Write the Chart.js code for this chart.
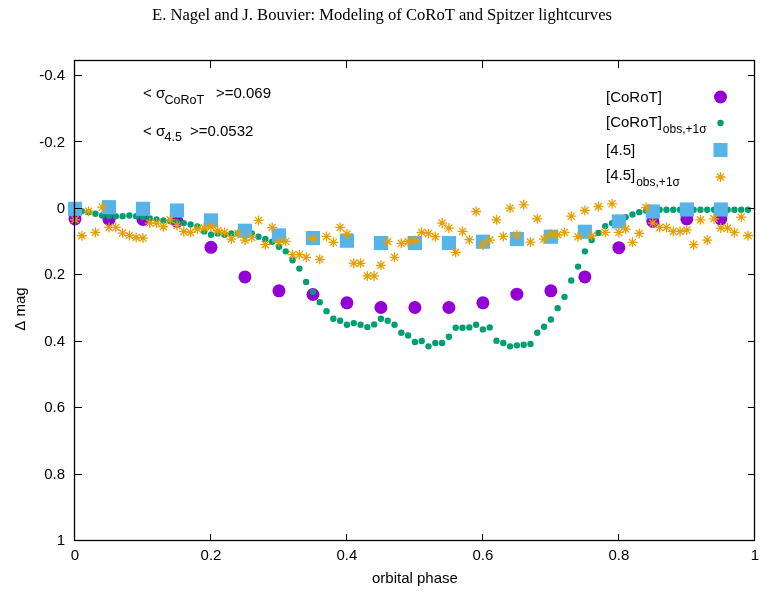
<!DOCTYPE html>
<html>
<head>
<meta charset="utf-8">
<script src="https://cdn.jsdelivr.net/npm/chart.js@4"></script>
<style>
  html, body { margin: 0; padding: 0; background: #fff; }
  #wrap { width: 765px; height: 594px; }
</style>
</head>
<body>
<div id="wrap"><canvas id="chart" width="765" height="594"></canvas></div>
<script>
// Model phases (one point every 0.05)
const modelPhase = [0, 0.05, 0.1, 0.15, 0.2, 0.25, 0.3, 0.35, 0.4, 0.45,
                    0.5, 0.55, 0.6, 0.65, 0.7, 0.75, 0.8, 0.85, 0.9, 0.95];
// [CoRoT] model
const corotModel = [0.03, 0.032, 0.032, 0.038, 0.116, 0.205, 0.247, 0.258, 0.283, 0.297,
                    0.297, 0.297, 0.283, 0.257, 0.247, 0.205, 0.117, 0.038, 0.03, 0.03];
// [4.5] model
const irModel = [0.0, -0.005, 0.0, 0.005, 0.035, 0.066, 0.08, 0.088, 0.096, 0.103,
                 0.103, 0.103, 0.099, 0.091, 0.084, 0.069, 0.038, 0.008, 0.002, 0.002];

// Observed phases (one point every 0.01)
const obsPhase = [
  0.00, 0.01, 0.02, 0.03, 0.04, 0.05, 0.06, 0.07, 0.08, 0.09,
  0.10, 0.11, 0.12, 0.13, 0.14, 0.15, 0.16, 0.17, 0.18, 0.19,
  0.20, 0.21, 0.22, 0.23, 0.24, 0.25, 0.26, 0.27, 0.28, 0.29,
  0.30, 0.31, 0.32, 0.33, 0.34, 0.35, 0.36, 0.37, 0.38, 0.39,
  0.40, 0.41, 0.42, 0.43, 0.44, 0.45, 0.46, 0.47, 0.48, 0.49,
  0.50, 0.51, 0.52, 0.53, 0.54, 0.55, 0.56, 0.57, 0.58, 0.59,
  0.60, 0.61, 0.62, 0.63, 0.64, 0.65, 0.66, 0.67, 0.68, 0.69,
  0.70, 0.71, 0.72, 0.73, 0.74, 0.75, 0.76, 0.77, 0.78, 0.79,
  0.80, 0.81, 0.82, 0.83, 0.84, 0.85, 0.86, 0.87, 0.88, 0.89,
  0.90, 0.91, 0.92, 0.93, 0.94, 0.95, 0.96, 0.97, 0.98, 0.99
];
// [CoRoT] obs,+1 sigma
const corotObs = [
  0.005, 0.007, 0.01, 0.015, 0.02, 0.022, 0.022, 0.022, 0.02, 0.022,
  0.025, 0.029, 0.032, 0.035, 0.037, 0.04, 0.043, 0.047, 0.053, 0.068,
  0.078, 0.074, 0.078, 0.074, 0.074, 0.081, 0.074, 0.084, 0.091, 0.099,
  0.114, 0.128, 0.155, 0.18, 0.22, 0.25, 0.281, 0.308, 0.331, 0.337,
  0.349, 0.344, 0.349, 0.356, 0.348, 0.331, 0.337, 0.349, 0.373, 0.381,
  0.401, 0.398, 0.414, 0.404, 0.404, 0.385, 0.358, 0.358, 0.357, 0.349,
  0.363, 0.357, 0.397, 0.404, 0.414, 0.411, 0.409, 0.407, 0.373, 0.355,
  0.333, 0.299, 0.265, 0.216, 0.174, 0.128, 0.094, 0.073, 0.052, 0.043,
  0.035, 0.025, 0.017, 0.01, 0.005, 0.003, 0.003, 0.003, 0.003, 0.003,
  0.003, 0.003, 0.003, 0.003, 0.003, 0.003, 0.003, 0.003, 0.003, 0.003
];
// [4.5] obs,+1 sigma
const irObs = [
  0.033, 0.081, 0.007, 0.071, -0.005, 0.056, 0.056, 0.073, 0.08, 0.086,
  0.088, 0.043, 0.043, 0.054, 0.033, 0.05, 0.068, 0.071, 0.061, 0.058,
  0.054, 0.066, 0.071, 0.091, 0.074, 0.094, 0.086, 0.035, 0.108, 0.056,
  0.101, 0.098, 0.138, 0.138, 0.146, 0.089, 0.152, 0.083, 0.101, 0.056,
  0.076, 0.164, 0.164, 0.202, 0.202, 0.17, 0.099, 0.146, 0.104, 0.099,
  0.096, 0.071, 0.074, 0.084, 0.043, 0.058, 0.131, 0.068, 0.093, 0.008,
  0.109, 0.094, 0.033, 0.083, -0.002, 0.079, -0.012, 0.1, 0.03, 0.091,
  0.076, 0.078, 0.071, 0.022, 0.084, 0.005, 0.081, -0.007, 0.071, -0.015,
  0.071, 0.061, 0.101, 0.074, -0.004, 0.043, 0.056, 0.056, 0.068, 0.068,
  0.064, 0.108, 0.033, 0.094, 0.03, 0.058, 0.058, 0.071, 0.025, 0.081
];

const xTicks = [0, 0.2, 0.4, 0.6, 0.8, 1];
const yTicks = [-0.4, -0.2, 0, 0.2, 0.4, 0.6, 0.8, 1];

const purple = "#9400d3";
const green = "#009e73";
const cyan = "#56b4e9";
const orange = "#e69f00";
const sans = "'Liberation Sans', Arial, sans-serif";

// Pair up phases and values for the scatter datasets
function pairs(xs, ys) {
    return xs.map((x, i) => ({ x: x, y: ys[i] }));
}

// Draw one legend marker in the same style as the datasets
function marker(ctx, style, x, y) {
    ctx.save();
    if (style === "big") {
        ctx.fillStyle = purple;
        ctx.beginPath(); ctx.arc(x, y, 6.5, 0, Math.PI * 2); ctx.fill();
    } else if (style === "small") {
        ctx.fillStyle = green;
        ctx.beginPath(); ctx.arc(x, y, 3.2, 0, Math.PI * 2); ctx.fill();
    } else if (style === "square") {
        ctx.fillStyle = cyan;
        ctx.fillRect(x - 7, y - 7, 14, 14);
    } else {
        ctx.strokeStyle = orange; ctx.lineWidth = 1.3;
        ctx.beginPath();
        for (let k = 0; k < 4; k++) {
            const a = k * Math.PI / 4;
            ctx.moveTo(x - Math.cos(a) * 5, y - Math.sin(a) * 5);
            ctx.lineTo(x + Math.cos(a) * 5, y + Math.sin(a) * 5);
        }
        ctx.stroke();
    }
    ctx.restore();
}

// Text with a subscript part
function subText(ctx, main, sub, x, y) {
    ctx.font = "15px " + sans;
    ctx.fillText(main, x, y);
    const w = ctx.measureText(main).width;
    ctx.font = "12px " + sans;
    ctx.fillText(sub, x + w + 1, y + 6);
}

// Frame, inward ticks, titles, legend and notes
const frame = {
    id: "frame",
    afterDraw(chart) {
        const ctx = chart.ctx;
        const a = chart.chartArea;
        const xs = chart.scales.x;
        const ys = chart.scales.y;
        ctx.save();
        ctx.strokeStyle = "#000";
        ctx.lineWidth = 1;
        ctx.beginPath();
        xTicks.forEach(v => {
            const px = Math.round(xs.getPixelForValue(v)) - 0.5;
            ctx.moveTo(px, a.bottom); ctx.lineTo(px, a.bottom - 7);
            ctx.moveTo(px, a.top); ctx.lineTo(px, a.top + 7);
        });
        yTicks.forEach(v => {
            const py = Math.round(ys.getPixelForValue(v)) - 0.5;
            ctx.moveTo(a.left, py); ctx.lineTo(a.left + 7, py);
            ctx.moveTo(a.right, py); ctx.lineTo(a.right - 7, py);
        });
        ctx.stroke();
        ctx.lineWidth = 1.3;
        ctx.strokeRect(Math.round(a.left) - 0.5, Math.round(a.top) - 0.5,
                       Math.round(a.right - a.left), Math.round(a.bottom - a.top));

        ctx.fillStyle = "#000";
        // page header
        ctx.font = "16.6px 'Liberation Serif', 'Times New Roman', serif";
        ctx.textAlign = "center";
        ctx.textBaseline = "alphabetic";
        ctx.fillText("E. Nagel and J. Bouvier: Modeling of CoRoT and Spitzer lightcurves", 382, 20);

        // axis titles
        ctx.font = "15px " + sans;
        ctx.fillText("orbital phase", (a.left + a.right) / 2, 583);
        ctx.save();
        ctx.translate(21, 309);
        ctx.rotate(-Math.PI / 2);
        ctx.textBaseline = "middle";
        ctx.fillText("\u0394 mag", 0, 0);
        ctx.restore();

        // mean sigma notes
        ctx.textAlign = "left";
        ctx.font = "15px " + sans;
        ctx.fillText("<", 143, 97.5);
        ctx.fillText("\u03c3", 156, 97.5);
        ctx.fillText(">=0.069", 216, 97.5);
        ctx.fillText("<", 143, 136);
        ctx.fillText("\u03c3", 156, 136);
        ctx.fillText(">=0.0532", 190, 136);
        ctx.font = "12.5px " + sans;
        ctx.fillText("CoRoT", 164.5, 103.5);
        ctx.fillText("4.5", 164.5, 141);

        // legend
        ctx.font = "15px " + sans;
        ctx.fillText("[CoRoT]", 606, 101.5);
        subText(ctx, "[CoRoT]", "obs,+1\u03c3", 606, 126.5);
        ctx.font = "15px " + sans;
        ctx.fillText("[4.5]", 606, 154.5);
        subText(ctx, "[4.5]", "obs,+1\u03c3", 606, 179.5);
        marker(ctx, "big", 720.5, 97);
        marker(ctx, "small", 720.5, 123);
        marker(ctx, "square", 720.5, 150);
        marker(ctx, "star", 720.5, 177);
        ctx.restore();
    }
};

const ctx = document.getElementById("chart").getContext("2d");
const chart = new Chart(ctx, {
    type: "scatter",
    data: {
        datasets: [
            {
                label: "[CoRoT]",
                data: pairs(modelPhase, corotModel),
                pointStyle: "circle",
                pointRadius: 6.5,
                pointBackgroundColor: purple,
                pointBorderWidth: 0,
                clip: false,
                order: 4
            },
            {
                label: "[CoRoT]obs,+1σ",
                data: pairs(obsPhase, corotObs),
                pointStyle: "circle",
                pointRadius: 3.2,
                pointBackgroundColor: green,
                pointBorderWidth: 0,
                clip: false,
                order: 3
            },
            {
                label: "[4.5]",
                data: pairs(modelPhase, irModel),
                pointStyle: "rect",
                pointRadius: 10,
                pointBackgroundColor: cyan,
                pointBorderWidth: 0,
                clip: false,
                order: 2
            },
            {
                label: "[4.5]obs,+1σ",
                data: pairs(obsPhase, irObs),
                pointStyle: "star",
                pointRadius: 5,
                pointBorderColor: orange,
                pointBorderWidth: 1.3,
                clip: false,
                order: 1
            }
        ]
    },
    options: {
        responsive: false,
        animation: false,
        events: [],
        layout: {
            autoPadding: false,
            padding: { top: 61, right: 10, bottom: 0, left: 0 }
        },
        plugins: {
            legend: { display: false },
            title: { display: false },
            tooltip: { enabled: false }
        },
        scales: {
            x: {
                type: "linear",
                min: 0,
                max: 1,
                afterFit: s => { s.height = 53; },
                afterBuildTicks: s => { s.ticks = xTicks.map(v => ({ value: v })); },
                grid: { display: false, drawTicks: false },
                border: { display: false },
                ticks: {
                    padding: 6,
                    color: "#000",
                    font: { family: sans, size: 15 },
                    callback: v => String(v)
                }
            },
            y: {
                type: "linear",
                min: -0.445,
                max: 1,
                reverse: true,
                afterFit: s => { s.width = 75; },
                afterBuildTicks: s => { s.ticks = yTicks.map(v => ({ value: v })); },
                grid: { display: false, drawTicks: false },
                border: { display: false },
                ticks: {
                    padding: 10,
                    color: "#000",
                    font: { family: sans, size: 15 },
                    callback: v => String(v)
                }
            }
        }
    },
    plugins: [frame]
});
</script>
</body>
</html>
